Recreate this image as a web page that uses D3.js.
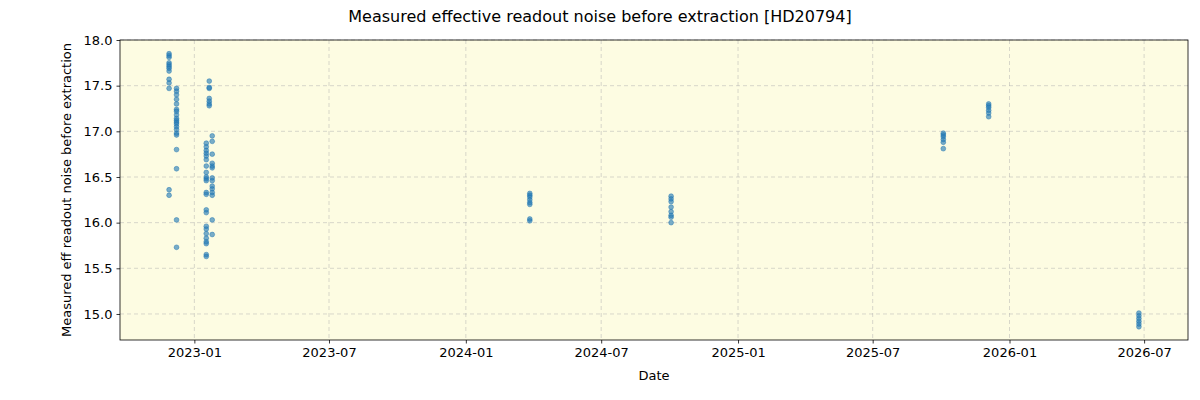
<!DOCTYPE html>
<html>
<head>
<meta charset="utf-8">
<script src="https://cdn.jsdelivr.net/npm/d3@7"></script>
<style>
body { margin: 0; background: #fff; }
svg { font-family: "DejaVu Sans", sans-serif; }
.grid line { stroke: #b0b0b0; stroke-dasharray: 4,3; stroke-width: 0.8; opacity: 0.6; }
</style>
</head>
<body>
<div id="chart"></div>
<script>
// observation nights (one per cluster of points)
var nightDates = ['2022-11-28', '2022-12-08', '2023-01-17', '2023-01-21', '2023-01-25',
    '2024-03-27', '2024-10-03', '2025-10-04', '2025-12-04', '2026-06-24'];

// measured noise per night
var noiseValues = [
    [17.85, 17.83, 17.81, 17.75, 17.73, 17.71, 17.69, 17.66, 17.57, 17.53, 17.47, 16.36, 16.30],
    [17.47, 17.44, 17.40, 17.35, 17.30, 17.24, 17.22, 17.18, 17.14, 17.12, 17.10, 17.08, 17.05,
        17.02, 16.98, 16.96, 16.80, 16.59, 16.03, 15.73],
    [16.87, 16.83, 16.79, 16.76, 16.73, 16.69, 16.62, 16.55, 16.50, 16.48, 16.46, 16.33, 16.31,
        16.14, 16.11, 15.96, 15.93, 15.88, 15.83, 15.79, 15.77, 15.65, 15.63],
    [17.55, 17.48, 17.47, 17.36, 17.33, 17.30, 17.28],
    [16.95, 16.89, 16.75, 16.65, 16.62, 16.60, 16.49, 16.46, 16.40, 16.37, 16.33, 16.30, 16.03, 15.87],
    [16.32, 16.30, 16.28, 16.25, 16.22, 16.20, 16.04, 16.02],
    [16.29, 16.26, 16.23, 16.17, 16.12, 16.08, 16.06, 16.00],
    [16.98, 16.96, 16.94, 16.91, 16.88, 16.81],
    [17.30, 17.28, 17.26, 17.23, 17.20, 17.16],
    [15.01, 14.98, 14.95, 14.92, 14.89, 14.86]
];

var yTicks = [15.0, 15.5, 16.0, 16.5, 17.0, 17.5, 18.0];
var xTicks = ['2023-01-01', '2023-07-01', '2024-01-01', '2024-07-01', '2025-01-01',
    '2025-07-01', '2026-01-01', '2026-07-01'];

var W = 1200, H = 400;
var m = {left: 120, right: 12, top: 40, bottom: 60};
var parse = d3.timeParse('%Y-%m-%d');

var svg = d3.select('#chart').append('svg')
    .attr('width', W).attr('height', H);

var x = d3.scaleTime()
    .domain([parse('2022-09-23'), parse('2026-08-29')])
    .range([m.left, W - m.right]);
var y = d3.scaleLinear()
    .domain([14.715, 18.0])
    .range([H - m.bottom, m.top]);

svg.append('rect')
    .attr('x', m.left).attr('y', m.top)
    .attr('width', W - m.left - m.right).attr('height', H - m.top - m.bottom)
    .attr('fill', '#fdfce2');

// grid
var grid = svg.append('g').attr('class', 'grid');
grid.selectAll('.gx').data(xTicks).enter().append('line')
    .attr('x1', function (d) { return x(parse(d)); })
    .attr('x2', function (d) { return x(parse(d)); })
    .attr('y1', m.top).attr('y2', H - m.bottom);
grid.selectAll('.gy').data(yTicks).enter().append('line')
    .attr('y1', function (d) { return y(d); })
    .attr('y2', function (d) { return y(d); })
    .attr('x1', m.left).attr('x2', W - m.right);

// points
var pts = [];
nightDates.forEach(function (d, i) {
    noiseValues[i].forEach(function (v) {
        pts.push({date: parse(d), value: v});
    });
});
svg.append('g').selectAll('circle').data(pts).enter().append('circle')
    .attr('cx', function (d) { return x(d.date); })
    .attr('cy', function (d) { return y(d.value); })
    .attr('r', 2.4)
    .attr('fill', '#1f77b4')
    .attr('fill-opacity', 0.6)
    .attr('stroke', '#1f77b4')
    .attr('stroke-opacity', 0.6)
    .attr('stroke-width', 0.8);

// axes
var xAxis = d3.axisBottom(x)
    .tickValues(xTicks.map(parse))
    .tickFormat(d3.timeFormat('%Y-%m'))
    .tickSize(3.5).tickPadding(4);
var yAxis = d3.axisLeft(y)
    .tickValues(yTicks)
    .tickFormat(d3.format('.1f'))
    .tickSize(3.5).tickPadding(4);

var gx = svg.append('g')
    .attr('transform', 'translate(0,' + (H - m.bottom) + ')')
    .call(xAxis);
var gy = svg.append('g')
    .attr('transform', 'translate(' + m.left + ',0)')
    .call(yAxis);
[gx, gy].forEach(function (g) {
    g.select('.domain').remove();
    g.selectAll('text').attr('font-size', 13).attr('font-family', '"DejaVu Sans", sans-serif').attr('fill', '#000');
    g.selectAll('line').attr('stroke', '#000').attr('stroke-width', 0.8);
});

svg.append('rect')
    .attr('x', m.left).attr('y', m.top)
    .attr('width', W - m.left - m.right).attr('height', H - m.top - m.bottom)
    .attr('fill', 'none').attr('stroke', '#000').attr('stroke-width', 0.8);

// labels
svg.append('text')
    .attr('x', W / 2).attr('y', 22)
    .attr('text-anchor', 'middle').attr('font-size', 16)
    .text('Measured effective readout noise before extraction [HD20794]');
svg.append('text')
    .attr('x', (m.left + W - m.right) / 2).attr('y', 380)
    .attr('text-anchor', 'middle').attr('font-size', 13)
    .text('Date');
svg.append('text')
    .attr('transform', 'translate(71,' + ((m.top + H - m.bottom) / 2) + ') rotate(-90)')
    .attr('text-anchor', 'middle').attr('font-size', 13)
    .text('Measured eff readout noise before extraction');
</script>
</body>
</html>
